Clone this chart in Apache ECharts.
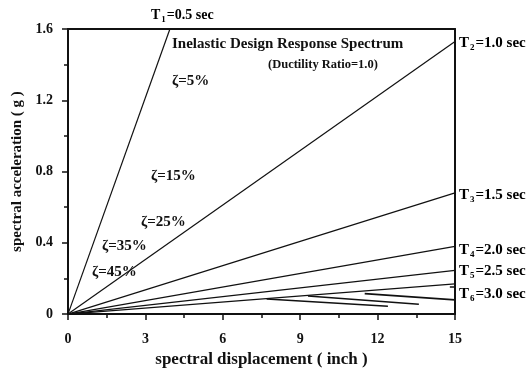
<!DOCTYPE html>
<html>
<head>
<meta charset="utf-8">
<script src="https://cdn.jsdelivr.net/npm/echarts@6/dist/echarts.min.js"></script>
<style>
  html, body { margin: 0; padding: 0; background: #fff; }
  #chart { width: 531px; height: 373px; }
</style>
</head>
<body>
<div id="chart"></div>
<script>
// period lines from the origin, end points
const periodNames = ['1', '2', '3', '4', '5', '6']
const periodValues = ['0.5', '1.0', '1.5', '2.0', '2.5', '3.0']
const periodEnds = [[3.95, 1.6], [15, 1.53], [15, 0.68], [15, 0.38], [15, 0.245], [15, 0.17]]

// short demand pieces near the bottom right
const demandPieces = [
  [[7.7, 0.085], [12.4, 0.044]],
  [[9.3, 0.102], [13.6, 0.055]],
  [[11.5, 0.115], [15, 0.08]],
  [[14.8, 0.152], [15, 0.152]]
]

const dampingLabels = ['ζ=5%', 'ζ=15%', 'ζ=25%', 'ζ=35%', 'ζ=45%']

const xTicks = [0, 3, 6, 9, 12, 15]
const yTicks = [0, 0.4, 0.8, 1.2, 1.6]

const serif = 'Liberation Serif'
const black = '#111'

const chart = echarts.init(document.getElementById('chart'))

const series = []
periodEnds.forEach(end => {
  series.push({
    type: 'line',
    data: [[0, 0], end],
    symbol: 'none',
    lineStyle: { color: black, width: 1.2 },
    silent: true
  })
})
demandPieces.forEach(piece => {
  series.push({
    type: 'line',
    data: piece,
    symbol: 'none',
    lineStyle: { color: black, width: 1.6 },
    silent: true
  })
})

function richT (size) {
  return {
    t: { fontFamily: serif, fontWeight: 'bold', fontSize: size, color: black },
    s: { fontFamily: serif, fontWeight: 'bold', fontSize: 9, color: black, verticalAlign: 'bottom', padding: [0, 1, 0, 1] }
  }
}
function periodText (i) {
  return '{t|T}{s|' + periodNames[i] + '}{t|=' + periodValues[i] + ' sec}'
}

// label positions (pixels)
const periodLabelPos = [[151, 15], [459, 43], [459, 195], [459, 250], [459, 271], [459, 294]]
const dampingPos = [[172, 82], [151, 177], [141, 223], [102, 247], [92, 273]]

const graphic = []
periodLabelPos.forEach((p, i) => {
  graphic.push({
    type: 'text', left: p[0], top: p[1] - 9,
    style: { text: periodText(i), rich: richT(i === 0 ? 14 : 15), lineHeight: 18 }
  })
})
dampingPos.forEach((p, i) => {
  graphic.push({
    type: 'text', left: p[0], top: p[1] - 8,
    style: { text: dampingLabels[i], fontFamily: serif, fontWeight: 'bold', fontSize: 15, fill: black }
  })
})
graphic.push({
  type: 'text', left: 172, top: 37,
  style: { text: 'Inelastic Design Response Spectrum', fontFamily: serif, fontWeight: 'bold', fontSize: 15, fill: black }
})
graphic.push({
  type: 'text', left: 268, top: 58,
  style: { text: '(Ductility Ratio=1.0)', fontFamily: serif, fontWeight: 'bold', fontSize: 12.5, fill: black }
})

const axisLine = { show: true, onZero: false, lineStyle: { color: black, width: 2 } }

chart.setOption({
  animation: false,
  grid: { left: 68, right: 76, top: 29, bottom: 56 },
  xAxis: [{
    type: 'value', min: xTicks[0], max: xTicks[xTicks.length - 1], interval: 3,
    name: 'spectral displacement ( inch )',
    nameLocation: 'middle', nameGap: 35,
    nameTextStyle: { fontFamily: serif, fontWeight: 'bold', fontSize: 17, color: black },
    axisLine: axisLine,
    axisTick: { show: true, length: 6, lineStyle: { color: black, width: 1.5 } },
    minorTick: { show: true, splitNumber: 2, length: 4, lineStyle: { color: black, width: 1.5 } },
    splitLine: { show: false },
    axisLabel: { margin: 18, fontFamily: serif, fontWeight: 'bold', fontSize: 14, color: black }
  }, {
    type: 'value', position: 'top', min: 0, max: 15,
    axisLine: axisLine, axisTick: { show: false }, axisLabel: { show: false }, splitLine: { show: false }
  }],
  yAxis: [{
    type: 'value', min: yTicks[0], max: yTicks[yTicks.length - 1], interval: 0.4,
    name: 'spectral acceleration ( g )',
    nameLocation: 'middle', nameGap: 42,
    nameTextStyle: { fontFamily: serif, fontWeight: 'bold', fontSize: 15, color: black },
    axisLine: axisLine,
    axisTick: { show: true, length: 6, lineStyle: { color: black, width: 1.5 } },
    minorTick: { show: true, splitNumber: 2, length: 4, lineStyle: { color: black, width: 1.5 } },
    splitLine: { show: false },
    axisLabel: {
      margin: 15, fontFamily: serif, fontWeight: 'bold', fontSize: 14, color: black,
      formatter: v => (v === 0 ? '0' : v.toFixed(1))
    }
  }, {
    type: 'value', position: 'right', min: 0, max: 1.6,
    axisLine: axisLine, axisTick: { show: false }, axisLabel: { show: false }, splitLine: { show: false }
  }],
  series: series,
  graphic: graphic
})
</script>
</body>
</html>
